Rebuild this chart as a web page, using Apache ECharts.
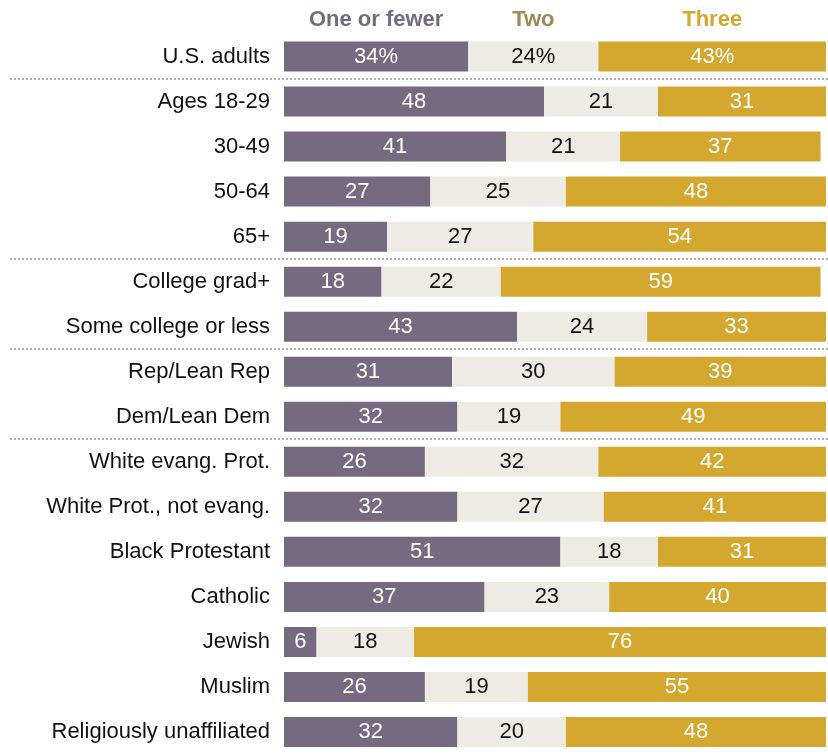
<!DOCTYPE html>
<html>
<head>
<meta charset="utf-8">
<script src="https://cdn.jsdelivr.net/npm/echarts@6/dist/echarts.min.js"></script>
<style>html,body{margin:0;padding:0;background:#fff}#c{width:828px;height:755px}</style>
</head>
<body>
<div id="c"></div>
<script>
const categories = ["U.S. adults","Ages 18-29","30-49","50-64","65+","College grad+","Some college or less","Rep/Lean Rep","Dem/Lean Dem","White evang. Prot.","White Prot., not evang.","Black Protestant","Catholic","Jewish","Muslim","Religiously unaffiliated"];
const oneOrFewer = [34,48,41,27,19,18,43,31,32,26,32,51,37,6,26,32];
const two = [24,21,21,25,27,22,24,30,19,32,27,18,23,18,19,20];
const three = [43,31,37,48,54,59,33,39,49,42,41,31,40,76,55,48];
const seriesNames = ["One or fewer","Two","Three"];
const separatorsAfter = [0,4,6,8];

const colors = ["#766a80","#eeebe5","#d4a72e"];
const headColors = ["#766a80","#9a8a55","#d4a72e"];
const labelColors = ["#fff","#111","#fff"];
const FONT = "'Liberation Sans', Arial, sans-serif";

const chart = echarts.init(document.getElementById('c'));
const dataSets = [oneOrFewer, two, three];
chart.setOption({
  animation:false,
  grid:{left:284, top:34, width:542, height:720.5},
  xAxis:{type:'value', min:0, max:100, show:false},
  yAxis:{type:'category', data:categories, inverse:true,
    axisLine:{show:false}, axisTick:{show:false},
    axisLabel:{color:'#111', fontSize:22, fontFamily:FONT, margin:14}},
  series: dataSets.map((d,i)=>({
    name:seriesNames[i], type:'bar', stack:'all', barWidth:30, data:d,
    itemStyle:{color:colors[i]},
    label:{show:true, position:'inside', color:labelColors[i], fontSize:22, fontFamily:FONT,
      formatter:p=> p.dataIndex===0 ? p.value+'%' : String(p.value)}
  }))
});

const g = [];
separatorsAfter.forEach(i=>{
  const y1 = chart.convertToPixel({yAxisIndex:0}, categories[i]);
  const y2 = chart.convertToPixel({yAxisIndex:0}, categories[i+1]);
  const y = Math.round((y1+y2)/2);
  g.push({type:'line', shape:{x1:10,y1:y,x2:828,y2:y},
    style:{stroke:'#b0b0b0', lineWidth:2, lineDash:[2,2]}});
});
let acc = 0;
dataSets.forEach((d,i)=>{
  const x0 = chart.convertToPixel({xAxisIndex:0}, acc);
  acc += d[0];
  const x1 = chart.convertToPixel({xAxisIndex:0}, Math.min(acc,100));
  g.push({type:'text', x:(x0+x1)/2, y:20,
    style:{text:seriesNames[i], fill:headColors[i], font:"bold 22px "+FONT, align:'center', verticalAlign:'middle'}});
});
chart.setOption({graphic:g});
</script>
</body>
</html>
